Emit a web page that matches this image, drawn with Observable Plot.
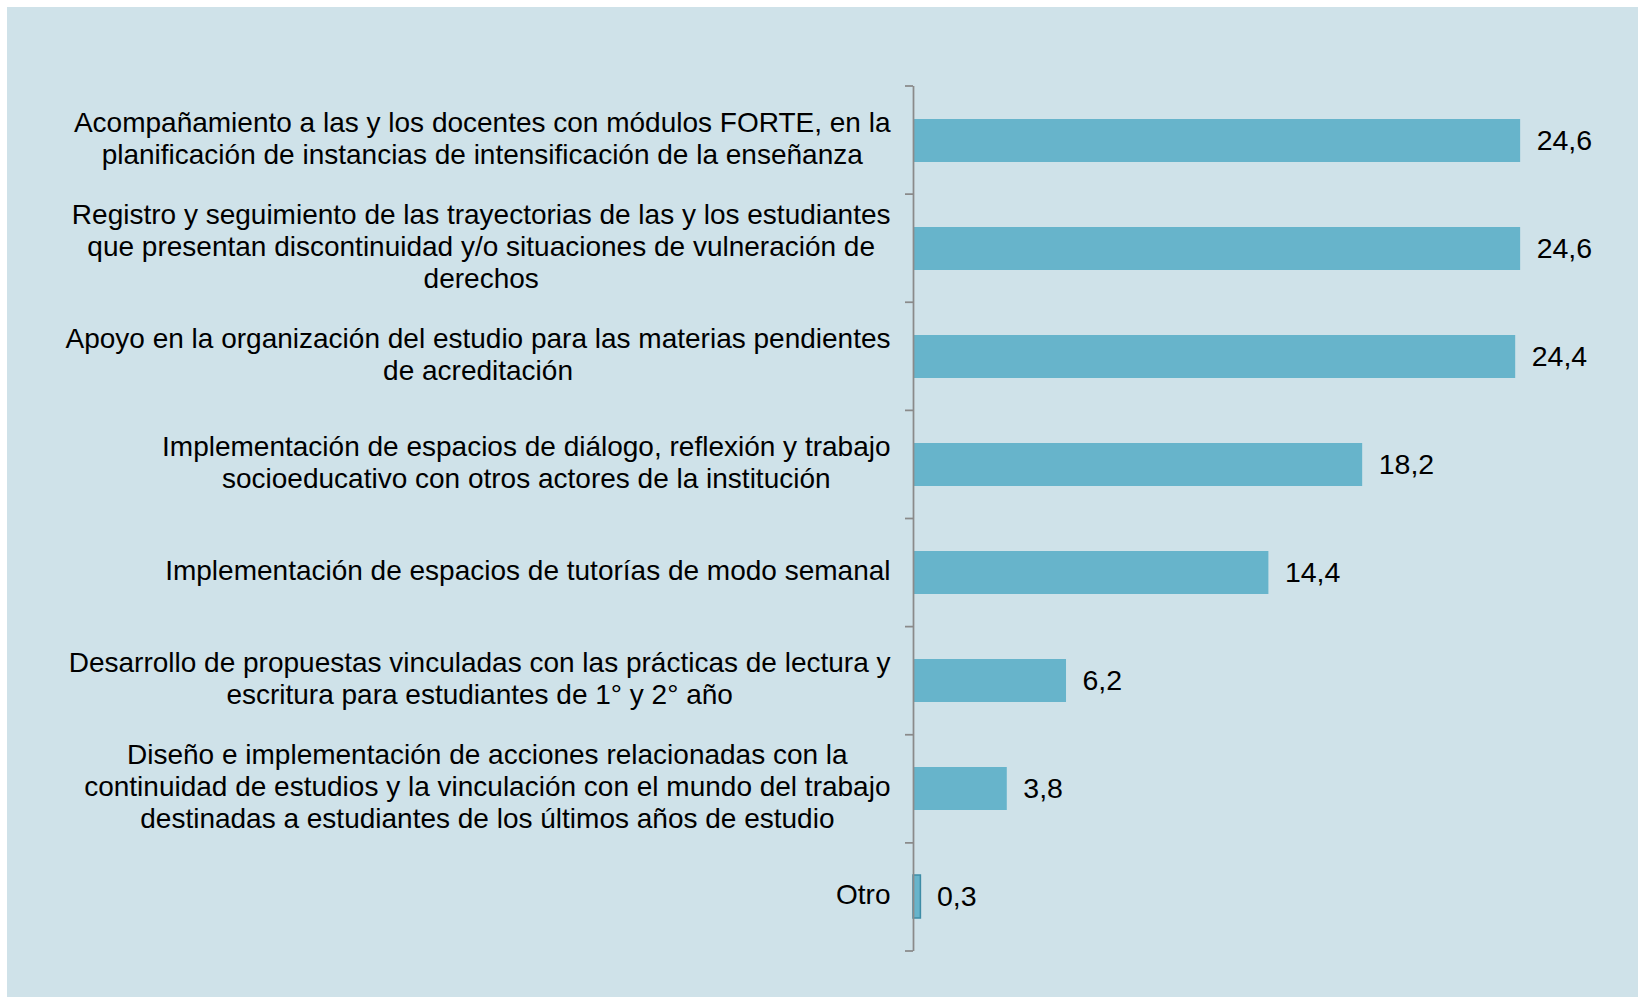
<!DOCTYPE html>
<html>
<head>
<meta charset="utf-8">
<script src="https://cdn.jsdelivr.net/npm/d3@7"></script>
<script src="https://cdn.jsdelivr.net/npm/@observablehq/plot@0.6"></script>
<style>
  html, body { margin: 0; padding: 0; background: #ffffff; }
  #chart { position: absolute; left: 7px; top: 7px; }
</style>
</head>
<body>
<div id="chart"></div>
<script>
const categories = [
  "Acompañamiento a las y los docentes con módulos FORTE, en la\nplanificación de instancias de intensificación de la enseñanza",
  "Registro y seguimiento de las trayectorias de las y los estudiantes\nque presentan discontinuidad y/o situaciones de vulneración de\nderechos",
  "Apoyo en la organización del estudio para las materias pendientes\nde acreditación",
  "Implementación de espacios de diálogo, reflexión y trabajo\nsocioeducativo con otros actores de la institución",
  "Implementación de espacios de tutorías de modo semanal",
  "Desarrollo de propuestas vinculadas con las prácticas de lectura y\nescritura para estudiantes de 1° y 2° año",
  "Diseño e implementación de acciones relacionadas con la\ncontinuidad de estudios y la vinculación con el mundo del trabajo\ndestinadas a estudiantes de los últimos años de estudio",
  "Otro"
];
const values = [24.6, 24.6, 24.4, 18.2, 14.4, 6.2, 3.8, 0.3];

const data = categories.map((c, i) => ({label: c, value: values[i]}));
const fmt = v => v.toFixed(1).replace(".", ",");

const BG = "#CFE2E9";
const BAR = "#67B4CB";
const AXIS = "#8A8A8A";
const FONT = "28px";
const VFONT = "28.5px";

function boundaryTicks(index, scales, values, dimensions) {
  const {marginTop, marginBottom, height} = dimensions;
  const n = categories.length;
  const x0 = scales.x(0);
  const step = (height - marginBottom - marginTop) / n;
  const g = d3.create("svg:g");
  for (let i = 0; i <= n; i++) {
    const y = marginTop + i * step;
    g.append("line")
      .attr("x1", x0 - 8).attr("x2", x0)
      .attr("y1", y).attr("y2", y)
      .attr("stroke", AXIS).attr("stroke-width", 1.75);
  }
  return g.node();
}

const plot = Plot.plot({
  width: 1631,
  height: 990,
  marginLeft: 906,
  marginRight: 108,
  marginTop: 79,
  marginBottom: 46,
  style: {background: BG, fontFamily: "'Liberation Sans', Arial, sans-serif", fontSize: FONT, color: "#000"},
  x: {domain: [0, 25], axis: null},
  y: {domain: categories, paddingInner: 0.6, paddingOuter: 0.3, label: null},
  marks: [
    Plot.barX(data, {
      x: "value", y: "label", fill: BAR,
      stroke: d => d.value < 1 ? "#3E8CA6" : "none", strokeWidth: 1.5
    }),
    Plot.text(data, {
      x: "value", y: "label", text: d => fmt(d.value),
      textAnchor: "start", dx: 16, fontSize: VFONT, fill: "#000"
    }),
    Plot.ruleX([0], {stroke: AXIS, strokeWidth: 1.75}),
    boundaryTicks,
    Plot.axisY({tickSize: 0, tickPadding: 23, dy: -3, fontSize: FONT, lineHeight: 1.14, fill: "#000", label: null})
  ]
});
document.getElementById("chart").append(plot);

// center multi-line category labels within their right-aligned block
d3.select(plot).selectAll("g[aria-label='y-axis tick label'] text").each(function() {
  const tspans = d3.select(this).selectAll("tspan");
  if (tspans.size() < 2) return;
  let w = 0;
  tspans.each(function() { w = Math.max(w, this.getComputedTextLength()); });
  d3.select(this).attr("text-anchor", "middle");
  tspans.attr("x", -w / 2);
});
</script>
</body>
</html>
